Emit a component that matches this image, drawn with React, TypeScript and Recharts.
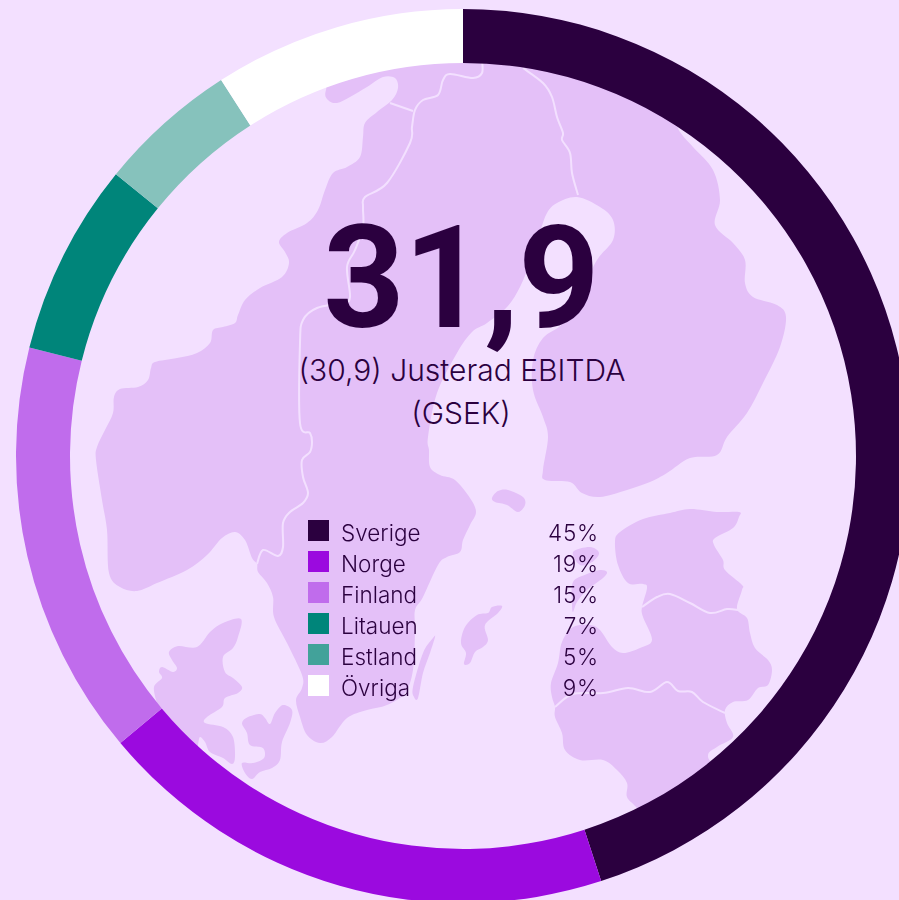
import React from 'react';
import { PieChart, Pie, Cell, Legend } from 'recharts';

const categories = ['Sverige', 'Norge', 'Finland', 'Litauen', 'Estland', 'Övriga'];
const shares = [45, 19, 15, 7, 5, 9];
const ringValues = [45, 18.9, 15, 6.95, 5.05, 9.1];
const ringColors = ['#2b003f', '#9b0adf', '#c06cec', '#00857a', '#86c2bc', '#ffffff'];
const legendColors = ['#2b003f', '#9b0adf', '#c06cec', '#00857a', '#42a29a', '#ffffff'];

const data = categories.map((name, i) => ({ name, value: ringValues[i] }));

const BG = '#f3e0ff';
const LAND = '#e4c0f8';
const INK = '#2b003f';
const FONT = 'Inter, sans-serif';

// background map, traced by hand. x,y pairs, purely decorative
const scandinavia = [
  326, 90, 328, 100, 337, 103, 350, 97, 367, 87, 383, 77, 395, 78, 398, 88, 392, 100, 377, 112, 365, 123, 363, 137,
  360, 157, 347, 167, 333, 173, 325, 190, 318, 210, 307, 223, 287, 233, 279, 242, 285, 252, 289, 263, 282, 277, 260, 288,
  245, 300, 238, 315, 235, 323, 223, 327, 213, 330, 210, 343, 197, 353, 177, 358, 155, 362, 151, 368, 148, 380, 138, 387,
  120, 389, 114, 397, 113, 413, 105, 430, 97, 447, 96, 460, 102, 500, 107, 530, 109, 573, 120, 587, 137, 591, 157, 583,
  187, 570, 207, 555, 222, 538, 235, 532, 245, 540, 252, 558, 257, 564, 258, 572, 267, 583, 273, 597, 274, 617, 287, 643,
  302, 675, 302, 688, 296, 700, 300, 717, 307, 735, 320, 743, 332, 737, 347, 718, 367, 710, 387, 705, 405, 693, 413, 670,
  415, 630, 415, 610, 423, 597, 438, 565, 447, 557, 460, 552, 463, 540, 470, 525, 476, 512, 470, 498, 455, 480, 440, 475,
  430, 467, 429, 450, 428, 437, 437, 393, 457, 353, 472, 332, 487, 323, 507, 307, 520, 287, 530, 262, 540, 232, 547, 213,
  557, 203, 577, 197, 600, 207, 613, 220, 613, 240, 597, 260, 580, 293, 563, 323, 543, 338, 533, 360, 533, 390, 543, 417,
  548, 437, 543, 470, 545, 480, 570, 482, 582, 493, 600, 497, 627, 490, 650, 482, 667, 473, 690, 458, 717, 455, 727, 437,
  747, 413, 763, 383, 780, 347, 786, 317, 777, 305, 753, 297, 745, 283, 745, 260, 733, 243, 715, 225, 720, 200, 713, 170,
  693, 147, 680, 132, 660, 100, 560, 45, 460, 35, 340, 60,
];
const baltics = [
  739, 512, 717, 512, 690, 509, 670, 513, 643, 519, 620, 532, 615, 542, 618, 565, 628, 583, 643, 584, 647, 588, 642, 607,
  643, 617, 652, 640, 640, 648, 623, 653, 612, 647, 600, 630, 590, 625, 573, 627, 562, 642, 558, 663, 551, 683, 552, 697,
  555, 707, 555, 717, 562, 733, 565, 750, 580, 760, 603, 760, 617, 770, 627, 783, 627, 797, 637, 808, 660, 835, 720, 785,
  708, 757, 717, 747, 733, 737, 727, 723, 725, 710, 733, 702, 748, 700, 758, 688, 768, 685, 772, 670, 768, 660, 755, 648,
  750, 633, 747, 618, 737, 609, 742, 590, 742, 585, 725, 570, 723, 560, 714, 545, 715, 538, 733, 528, 739, 517,
];
const jutland = [
  241, 619, 223, 623, 210, 632, 197, 647, 178, 646, 169, 652, 172, 660, 177, 668, 173, 672, 162, 667, 159, 672, 162, 678,
  154, 687, 157, 703, 161, 710, 170, 735, 195, 760, 198, 745, 200, 737, 205, 742, 210, 752, 223, 758, 232, 764, 235, 757,
  233, 737, 223, 727, 205, 723, 207, 717, 222, 707, 225, 698, 238, 693, 242, 687, 233, 678, 225, 672, 223, 657, 233, 648, 238, 637,
];
const zealand = [
  242, 723, 248, 717, 260, 714, 265, 718, 270, 724, 275, 713, 283, 705, 292, 710, 290, 723, 282, 742, 280, 760, 272, 768,
  260, 772, 252, 779, 245, 773, 242, 763, 253, 763, 264, 758, 263, 748, 250, 745, 247, 733,
];
const islands = [
  [492, 498, 498, 491, 508, 490, 523, 497, 525, 505, 518, 512, 507, 505, 495, 502],
  [573, 552, 590, 547, 599, 553, 592, 562, 580, 565],
  [607, 572, 603, 578, 587, 590, 577, 602, 573, 612, 572, 603, 573, 582, 587, 574, 600, 570],
  [492, 607, 502, 606, 498, 613, 485, 625, 488, 640, 483, 647, 475, 652, 470, 663, 464, 664, 466, 653, 461, 643, 465, 627, 477, 615, 488, 613],
  [435, 637, 430, 653, 423, 673, 418, 698, 414, 697, 413, 687, 423, 653, 433, 638],
];
const borders = [
  [482, 60, 482, 73, 473, 78, 450, 74, 443, 80, 438, 95, 423, 100, 415, 110, 412, 127, 410, 143, 387, 183, 365, 197, 363, 207, 363, 227, 355, 250,
    347, 267, 350, 297, 343, 303, 317, 308, 303, 320, 300, 343, 300, 423, 310, 433, 312, 442, 310, 452, 302, 460, 303, 477, 308, 493, 303, 503,
    290, 512, 283, 523, 283, 547, 278, 556, 263, 550, 257, 564],
  [390, 103, 413, 111],
  [523, 68, 543, 83, 552, 97, 557, 117, 563, 133, 562, 140, 570, 153, 572, 173, 578, 195],
  [642, 607, 657, 597, 670, 594, 690, 603, 710, 613, 727, 609, 738, 610],
  [555, 707, 573, 694, 603, 693, 628, 688, 650, 692, 667, 682, 678, 691, 692, 692, 703, 702, 725, 713],
];

// catmull-rom through the traced points
const smooth = (flat: number[], closed: boolean) => {
  const pts: number[][] = [];
  for (let i = 0; i < flat.length; i += 2) pts.push([flat[i], flat[i + 1]]);
  const n = pts.length;
  const at = (i: number) => (closed ? pts[(i + n) % n] : pts[Math.max(0, Math.min(n - 1, i))]);
  let d = `M${pts[0][0]} ${pts[0][1]}`;
  const last = closed ? n : n - 1;
  for (let i = 0; i < last; i++) {
    const [p0, p1, p2, p3] = [at(i - 1), at(i), at(i + 1), at(i + 2)];
    const c1x = p1[0] + (p2[0] - p0[0]) / 6;
    const c1y = p1[1] + (p2[1] - p0[1]) / 6;
    const c2x = p2[0] - (p3[0] - p1[0]) / 6;
    const c2y = p2[1] - (p3[1] - p1[1]) / 6;
    d += ` C${c1x.toFixed(1)} ${c1y.toFixed(1)} ${c2x.toFixed(1)} ${c2y.toFixed(1)} ${p2[0]} ${p2[1]}`;
  }
  return closed ? d + 'Z' : d;
};

const MapBackdrop = () => (
  <svg width={899} height={900} style={{ position: 'absolute', left: 0, top: 0 }}>
    {[scandinavia, baltics, jutland, zealand, ...islands].map((shape, i) => (
      <path key={i} d={smooth(shape, true)} fill={LAND} />
    ))}
    {borders.map((line, i) => (
      <path key={i} d={smooth(line, false)} fill="none" stroke={BG} strokeWidth={2} />
    ))}
  </svg>
);

const renderLegend = () => (
  <div style={{ fontFamily: FONT, fontWeight: 300, fontSize: 22.5, color: INK, width: 291, willChange: 'transform' }}>
    {categories.map((name, i) => (
      <div key={name} style={{ height: 31, lineHeight: '31px', display: 'flex', alignItems: 'center' }}>
        <span style={{ width: 21, height: 21, background: legendColors[i], marginRight: 12 }} />
        <span style={{ flex: 1, position: 'relative', top: 2 }}>{name}</span>
        <span style={{ position: 'relative', top: 2, letterSpacing: 0.8 }}>{shares[i]}%</span>
      </div>
    ))}
  </div>
);

export default function App() {
  return (
    <div style={{ position: 'absolute', left: 0, top: 0, width: 899, height: 900, background: BG, overflow: 'hidden' }}>
      <MapBackdrop />
      <PieChart width={899} height={900} margin={{ top: 0, right: 0, bottom: 0, left: 0 }} style={{ position: 'absolute', left: 0, top: 0 }}>
        <Pie
          data={data}
          dataKey="value"
          nameKey="name"
          cx={463}
          cy={456}
          innerRadius={393}
          outerRadius={447}
          startAngle={90}
          endAngle={-270}
          stroke="none"
          isAnimationActive={false}
        >
          {data.map((d, i) => (
            <Cell key={d.name} fill={ringColors[i]} />
          ))}
        </Pie>
        <text x={461} y={327} textAnchor="middle" fontFamily="Roboto, sans-serif" fontWeight={700} fontSize={142} letterSpacing={-1} fill={INK}>
          31,9
        </text>
        <text x={462} y={381} textAnchor="middle" fontFamily={FONT} fontWeight={300} fontSize={30} fill={INK}>
          (30,9) Justerad EBITDA
        </text>
        <text x={461} y={424} textAnchor="middle" fontFamily={FONT} fontWeight={300} fontSize={30} fill={INK}>
          (GSEK)
        </text>
        <Legend
          layout="vertical"
          align="center"
          verticalAlign="middle"
          content={renderLegend}
          wrapperStyle={{ left: 308, top: 515, width: 291, margin: 0 }}
        />
      </PieChart>
    </div>
  );
}
